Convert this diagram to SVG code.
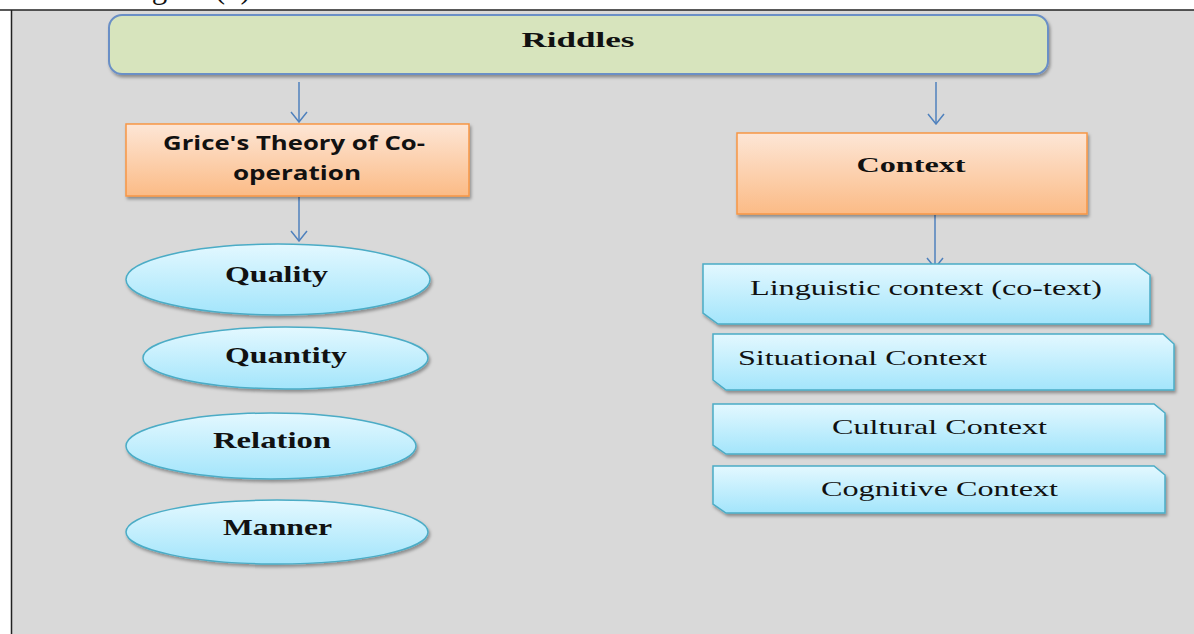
<svg xmlns="http://www.w3.org/2000/svg" width="1194" height="634" viewBox="0 0 1194 634">
<defs>
<style>
.lbl{font-family:"Liberation Serif","Times New Roman",serif;fill:#111;}
.b{font-weight:bold;}
.sans{font-family:"Open Sans","Liberation Sans",Arial,sans-serif;font-weight:bold;fill:#111;}
.conn{stroke:#4f81bd;stroke-width:1.5;fill:none;}
.blue{fill:url(#gBlue);stroke:#4bacc6;stroke-width:1.5;}
.orange{fill:url(#gOrange);stroke:#f79646;stroke-width:1.5;}
</style>
<linearGradient id="gBlue" x1="0" y1="0" x2="0" y2="1">
<stop offset="0" stop-color="#e3f8ff"/>
<stop offset="1" stop-color="#a3e5fb"/>
</linearGradient>
<linearGradient id="gOrange" x1="0" y1="0" x2="0" y2="1">
<stop offset="0" stop-color="#fde6d6"/>
<stop offset="1" stop-color="#fbbb86"/>
</linearGradient>
<filter id="sh" x="-10%" y="-20%" width="120%" height="150%">
<feDropShadow dx="1.5" dy="2.5" stdDeviation="1.5" flood-color="#000" flood-opacity="0.35"/>
</filter>
<marker id="arr" viewBox="0 0 12 18" refX="11" refY="9" markerWidth="12" markerHeight="18" markerUnits="userSpaceOnUse" orient="auto">
<path d="M1,1 L11,9 L1,17" fill="none" stroke="#4f81bd" stroke-width="1.5"/>
</marker>
</defs>
<rect x="0" y="0" width="1194" height="634" fill="#ffffff"/>
<rect x="12" y="10" width="1182" height="624" fill="#d9d9d9"/>
<line x1="0" y1="10" x2="1194" y2="10" stroke="#222" stroke-width="1.5"/>
<line x1="11.5" y1="10" x2="11.5" y2="634" stroke="#222" stroke-width="1.5"/>
<text x="126" y="-2" class="lbl" font-size="31">Figure (1).</text>

<g id="connectors">
<line class="conn" x1="299" y1="82" x2="299" y2="122" marker-end="url(#arr)"/>
<line class="conn" x1="936" y1="82" x2="936" y2="124" marker-end="url(#arr)"/>
<line class="conn" x1="299" y1="197" x2="299" y2="241" marker-end="url(#arr)"/>
<line class="conn" x1="935" y1="215" x2="935" y2="268" marker-end="url(#arr)"/>
</g>

<g id="riddles">
<rect x="109" y="15" width="939" height="59" rx="13" fill="#d7e4bd" stroke="#6a8fc6" stroke-width="2" filter="url(#sh)"/>
<text x="578" y="47" class="lbl b" font-size="22" text-anchor="middle" textLength="113" lengthAdjust="spacingAndGlyphs">Riddles</text>
</g>

<g id="grice">
<rect x="126" y="124" width="343" height="72" class="orange" filter="url(#sh)"/>
<text x="294" y="150" class="sans" font-size="19" text-anchor="middle" textLength="262" lengthAdjust="spacingAndGlyphs">Grice's Theory of Co-</text>
<text x="297" y="180" class="sans" font-size="19" text-anchor="middle" textLength="128" lengthAdjust="spacingAndGlyphs">operation</text>
</g>

<g id="context">
<rect x="737" y="133" width="350" height="81" class="orange" filter="url(#sh)"/>
<text x="911" y="172" class="lbl b" font-size="22" text-anchor="middle" textLength="109" lengthAdjust="spacingAndGlyphs">Context</text>
</g>

<g id="quality">
<ellipse cx="278" cy="279.5" rx="152" ry="35.5" class="blue" filter="url(#sh)"/>
<text x="276.5" y="282" class="lbl b" font-size="23" text-anchor="middle" textLength="103" lengthAdjust="spacingAndGlyphs">Quality</text>
</g>
<g id="quantity">
<ellipse cx="285.5" cy="358" rx="142.5" ry="31" class="blue" filter="url(#sh)"/>
<text x="286" y="363" class="lbl b" font-size="23" text-anchor="middle" textLength="122" lengthAdjust="spacingAndGlyphs">Quantity</text>
</g>
<g id="relation">
<ellipse cx="271" cy="446" rx="145" ry="33" class="blue" filter="url(#sh)"/>
<text x="272" y="448" class="lbl b" font-size="23" text-anchor="middle" textLength="118" lengthAdjust="spacingAndGlyphs">Relation</text>
</g>
<g id="manner">
<ellipse cx="277" cy="532" rx="151" ry="32" class="blue" filter="url(#sh)"/>
<text x="277.5" y="535" class="lbl b" font-size="23" text-anchor="middle" textLength="109" lengthAdjust="spacingAndGlyphs">Manner</text>
</g>

<g id="linguistic">
<path d="M703,264 H1135 L1150,275 V324 H718 L703,313 Z" class="blue" filter="url(#sh)"/>
<text x="750" y="295" class="lbl" font-size="22" textLength="352" lengthAdjust="spacingAndGlyphs">Linguistic context (co-text)</text>
</g>
<g id="situational">
<path d="M713,334 H1163 L1174,344 V390 H726 L713,380 Z" class="blue" filter="url(#sh)"/>
<text x="738" y="365" class="lbl" font-size="22" textLength="249" lengthAdjust="spacingAndGlyphs">Situational Context</text>
</g>
<g id="cultural">
<path d="M713,404 H1154 L1165,413 V454 H726 L713,445 Z" class="blue" filter="url(#sh)"/>
<text x="832" y="434" class="lbl" font-size="22" textLength="215" lengthAdjust="spacingAndGlyphs">Cultural Context</text>
</g>
<g id="cognitive">
<path d="M713,466 H1154 L1165,475 V513 H726 L713,504 Z" class="blue" filter="url(#sh)"/>
<text x="821" y="496" class="lbl" font-size="22" textLength="237" lengthAdjust="spacingAndGlyphs">Cognitive Context</text>
</g>
</svg>
